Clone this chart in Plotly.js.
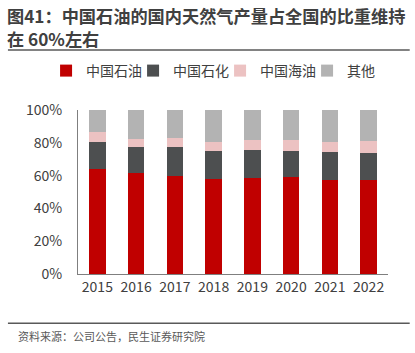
<!DOCTYPE html>
<html>
<head>
<meta charset="utf-8">
<script src="https://cdn.plot.ly/plotly-3.0.1.min.js"></script>
<style>
html,body{margin:0;padding:0;background:#fff;}
#chart{width:415px;height:353px;}
</style>
</head>
<body>
<div id="chart"></div>
<script>
const years = ['2015','2016','2017','2018','2019','2020','2021','2022'];
const petroChina = [64.0, 61.8, 59.8, 57.9, 58.5, 59.3, 57.5, 57.5];
const sinopec    = [16.3, 15.6, 17.6, 17.1, 17.3, 15.9, 16.7, 16.1];
const cnooc      = [6.1, 5.1, 5.3, 5.5, 5.9, 6.5, 6.3, 7.5];
const others     = [13.6, 17.5, 17.3, 19.5, 18.3, 18.3, 19.5, 18.9];
const seriesNames = ['中国石油','中国石化','中国海油','其他'];
const seriesColors = ['#C00000','#4D4F50','#ECC2C2','#B3B3B3'];
const yTickVals = [0, 20, 40, 60, 80, 100];
const yTickText = ['0%','20%','40%','60%','80%','100%'];
const titleLines = ['图41：中国石油的国内天然气产量占全国的比重维持', '在 60%左右'];
const sourceText = '资料来源：公司公告，民生证券研究院';

const font = '"Noto Sans CJK SC", "Open Sans", sans-serif';
const allSeries = [petroChina, sinopec, cnooc, others];
const data = allSeries.map((vals, i) => ({
  type: 'bar',
  x: years,
  y: vals,
  name: seriesNames[i],
  marker: {color: seriesColors[i], line: {width: 0}},
  hoverinfo: 'skip'
}));

const layout = {
  width: 415, height: 353,
  margin: {l: 78, r: 27, t: 110, b: 79},
  paper_bgcolor: '#fff', plot_bgcolor: '#fff',
  barmode: 'stack',
  bargap: 0.58,
  font: {family: font, size: 14, color: '#404040'},
  showlegend: true,
  legend: {
    orientation: 'h',
    x: -0.103, xanchor: 'left', y: (274-71)/164, yanchor: 'middle',
    bgcolor: 'rgba(0,0,0,0)',
    font: {family: font, size: 14, color: '#404040'},
    itemwidth: 30, entrywidth: 42, entrywidthmode: 'pixels',
    traceorder: 'normal', itemclick: false
  },
  xaxis: {
    type: 'category',
    showline: true, linecolor: '#7F7F7F', linewidth: 1,
    ticks: '', showgrid: false, zeroline: false,
    tickfont: {family: font, size: 14, color: '#404040'},
    fixedrange: true
  },
  yaxis: {
    range: [0, 100],
    tickvals: yTickVals, ticktext: yTickText,
    showline: true, linecolor: '#7F7F7F', linewidth: 1,
    ticks: '', showgrid: false, zeroline: false,
    tickfont: {family: font, size: 14, color: '#404040'},
    ticklabelstandoff: 12,
    fixedrange: true
  },
  shapes: [
    {type: 'line', xref: 'paper', yref: 'paper', x0: -0.226, x1: 1.07, y0: 1.366, y1: 1.366, line: {color: '#595959', width: 1.5}},
    {type: 'line', xref: 'paper', yref: 'paper', x0: -0.226, x1: 1.07, y0: -0.3, y1: -0.3, line: {color: '#595959', width: 1.5}}
  ],
  annotations: [
    {xref: 'paper', yref: 'paper', x: -0.232, y: (274-16)/164, xanchor: 'left', yanchor: 'middle', align: 'left',
     text: '<b>' + titleLines[0] + '</b>', showarrow: false, borderpad: 0,
     font: {family: font, size: 17.2, color: '#404040'}},
    {xref: 'paper', yref: 'paper', x: -0.232, y: (274-38)/164, xanchor: 'left', yanchor: 'middle', align: 'left',
     text: '<b>' + titleLines[1] + '</b>', showarrow: false, borderpad: 0,
     font: {family: font, size: 17.2, color: '#404040'}},
    {xref: 'paper', yref: 'paper', x: -0.2, y: -0.38, xanchor: 'left', yanchor: 'middle', align: 'left',
     text: sourceText, showarrow: false,
     font: {family: font, size: 11, color: '#595959'}}
  ]
};

Plotly.newPlot('chart', data, layout, {staticPlot: true, displayModeBar: false});
</script>
</body>
</html>
